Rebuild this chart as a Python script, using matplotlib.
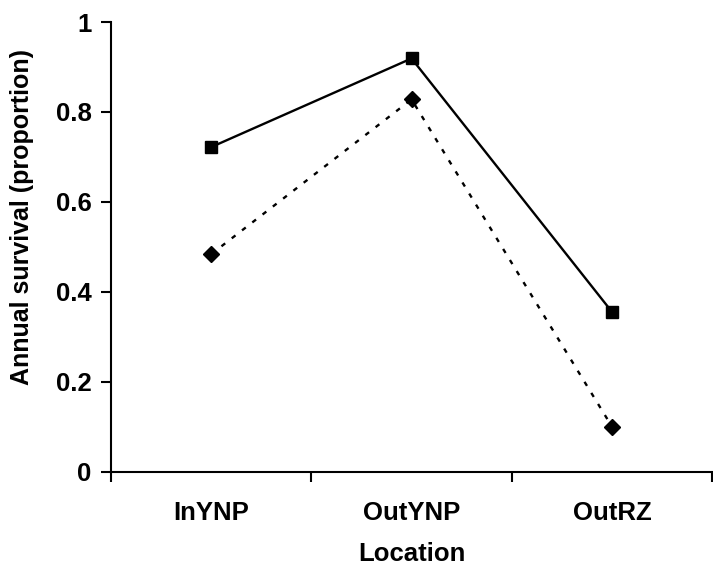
import matplotlib
matplotlib.use("Agg")
import matplotlib.pyplot as plt

plt.rcParams["font.family"] = ["Liberation Sans", "DejaVu Sans"]
plt.rcParams["font.weight"] = "bold"

locations = ["InYNP", "OutYNP", "OutRZ"]
survival_solid = [0.722, 0.919, 0.356]
survival_dashed = [0.484, 0.828, 0.101]

x = [i + 0.5 for i in range(len(locations))]

fig = plt.figure(figsize=(7.13, 5.73), dpi=100)
ax = fig.add_axes([0.1557, 0.1763, 0.843, 0.7853])

ax.plot(x, survival_solid, color="black", lw=1.7, marker="s", ms=9,
        clip_on=False)
ax.plot(x, survival_dashed, color="black", lw=1.7, ls=(0, (2, 3.5)),
        marker="D", ms=8, clip_on=False)

ax.set_xlim(0, 3)
ax.set_ylim(0, 1)
ax.set_xticks([0, 1, 2, 3])
ax.set_xticklabels([])
ax.set_xticks(x, minor=True)
ax.set_xticklabels(locations, minor=True, fontsize=18.5, fontweight="bold")
ax.tick_params(axis="x", which="minor", length=0, pad=21)
ax.tick_params(axis="x", which="major", length=7, width=1.5, direction="out")

ax.set_yticks([0, 0.2, 0.4, 0.6, 0.8, 1])
ax.set_yticklabels(["0", "0.2", "0.4", "0.6", "0.8", "1"], fontsize=18.5,
                   fontweight="bold")
ax.tick_params(axis="y", length=7, width=1.5, direction="out", pad=7)

for side in ["top", "right"]:
    ax.spines[side].set_visible(False)
for side in ["left", "bottom"]:
    ax.spines[side].set_linewidth(1.5)

ax.set_xlabel("Location", fontsize=18.5, fontweight="bold", labelpad=12)
ax.set_ylabel("Annual survival (proportion)", fontsize=18, fontweight="bold")
ax.yaxis.set_label_coords(-0.128, 0.567)

fig.savefig("out.png", dpi=100)
